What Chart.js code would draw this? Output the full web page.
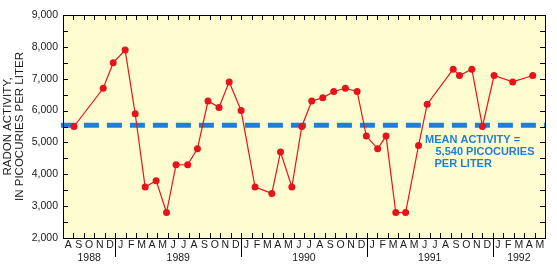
<!DOCTYPE html>
<html>
<head>
<meta charset="utf-8">
<script src="https://cdn.jsdelivr.net/npm/chart.js@4/dist/chart.umd.min.js"></script>
<style>
  html, body { margin: 0; padding: 0; background: #fff; }
</style>
</head>
<body>
<canvas id="radonChart" width="557" height="273"></canvas>
<script>
// month letters along the axis, Aug 1988 .. May 1992
const monthLetters = [
  "A","S","O","N","D",
  "J","F","M","A","M","J","J","A","S","O","N","D",
  "J","F","M","A","M","J","J","A","S","O","N","D",
  "J","F","M","A","M","J","J","A","S","O","N","D",
  "J","F","M","A","M"
];
const years = ["1988", "1989", "1990", "1991", "1992"];
const yearCenters = [2.5, 11, 23, 35, 43.5];   // months since 1 Aug 1988
const yearBreaks = [5, 17, 29, 41];

// sample dates (months since 1 Aug 1988) and radon activity, pCi/L
const sampleMonth = [
  1.05, 3.84, 4.79, 5.93, 6.89, 7.84, 8.89, 9.88, 10.79, 11.9,
  12.83, 13.84, 14.89, 15.86, 17.0, 18.33, 19.93, 20.76, 21.84, 22.79,
  23.74, 24.79, 25.84, 26.95, 28.07, 28.95, 30.03, 30.83, 31.76, 32.7,
  33.93, 34.76, 37.24, 37.84, 39.02, 40.03, 41.14, 42.92, 44.83
];
const radon = [
  5500, 6700, 7500, 7900, 5900, 3600, 3800, 2800, 4300, 4300,
  4800, 6300, 6100, 6900, 6000, 3600, 3400, 4700, 3600, 5500,
  6300, 6400, 6600, 6700, 6600, 5200, 4800, 5200, 2800, 2800,
  4900, 6200, 7300, 7100, 7300, 5500, 7100, 6900, 7100
];
const meanActivity = 5540;
const meanLabel = ["MEAN ACTIVITY =", "5,540 PICOCURIES", "PER LITER"];

const FONT = "'Liberation Sans', Arial, Helvetica, sans-serif";
const INK = "#1a1a1a";
const BLUE = "#1f7fd8";
const RED = "#e3141c";

const framePlugin = {
  id: "frame",
  beforeDatasetsDraw(chart) {
    const { ctx, chartArea: a } = chart;
    ctx.save();
    ctx.fillStyle = "#fffcd0";
    ctx.fillRect(a.left, a.top, a.right - a.left, a.bottom - a.top);
    ctx.restore();
  },
  afterDatasetsDraw(chart) {
    const { ctx, chartArea: a, scales } = chart;
    const xs = scales.x, ys = scales.y;
    ctx.save();
    ctx.strokeStyle = "#000";
    ctx.lineWidth = 1;
    ctx.beginPath();
    // inward month ticks, top and bottom
    for (let m = 1; m < monthLetters.length; m++) {
      const px = Math.round(xs.getPixelForValue(m)) + 0.5;
      ctx.moveTo(px, a.top); ctx.lineTo(px, a.top + 5);
      ctx.moveTo(px, a.bottom); ctx.lineTo(px, a.bottom - 5);
    }
    // inward value ticks every 500, left and right
    for (let v = ys.min + 500; v < ys.max; v += 500) {
      const py = Math.round(ys.getPixelForValue(v)) + 0.5;
      ctx.moveTo(a.left, py); ctx.lineTo(a.left + 5, py);
      ctx.moveTo(a.right, py); ctx.lineTo(a.right - 5, py);
    }
    // year separators reaching down through the month letters
    yearBreaks.forEach((m) => {
      const px = Math.round(xs.getPixelForValue(m)) + 0.5;
      ctx.moveTo(px, a.bottom - 5); ctx.lineTo(px, a.bottom + 19);
    });
    ctx.stroke();
    ctx.strokeRect(Math.round(a.left) + 0.5, Math.round(a.top) + 0.5,
      Math.round(a.right - a.left), Math.round(a.bottom - a.top));

    // mean annotation
    const my = ys.getPixelForValue(meanActivity);
    ctx.fillStyle = BLUE;
    ctx.font = "bold 11px " + FONT;
    ctx.textBaseline = "top";
    ctx.fillText(meanLabel[0], xs.getPixelForValue(34.55), my + 9);
    ctx.fillText(meanLabel[1], xs.getPixelForValue(35.55), my + 21);
    ctx.fillText(meanLabel[2], xs.getPixelForValue(35.45), my + 33);
    ctx.restore();
  }
};

const tickFont = { family: FONT, size: 10.5 };

new Chart(document.getElementById("radonChart"), {
  type: "line",
  data: {
    datasets: [
      {
        data: sampleMonth.map((m, i) => ({ x: m, y: radon[i] })),
        borderColor: RED,
        borderWidth: 1.2,
        pointRadius: 3.5,
        pointBackgroundColor: RED,
        pointBorderWidth: 0,
        tension: 0,
        order: 0,
      },
      {
        data: [{ x: -0.2, y: meanActivity }, { x: monthLetters.length + 0.1, y: meanActivity }],
        borderColor: BLUE,
        borderWidth: 5,
        borderDash: [15, 8],
        pointRadius: 0,
        clip: false,
        order: 1,
      },
    ],
  },
  options: {
    responsive: false,
    devicePixelRatio: 1,
    animation: false,
    layout: { padding: { top: 15, right: 12, left: 0, bottom: 0 } },
    plugins: { legend: { display: false }, tooltip: { enabled: false } },
    scales: {
      x: {
        type: "linear", position: "bottom",
        min: 0, max: monthLetters.length,
        grid: { display: false, drawTicks: false }, border: { display: false },
        afterBuildTicks: (s) => { s.ticks = monthLetters.map((_, i) => ({ value: i + 0.5 })); },
        afterFit: (s) => { s.height = 14; },
        ticks: {
          autoSkip: false, maxRotation: 0, padding: 0.5,
          color: INK, font: tickFont,
          callback: (v, i) => monthLetters[i],
        },
      },
      x2: {
        type: "linear", position: "bottom",
        min: 0, max: monthLetters.length,
        grid: { display: false, drawTicks: false }, border: { display: false },
        afterBuildTicks: (s) => { s.ticks = yearCenters.map((c) => ({ value: c })); },
        afterFit: (s) => { s.height = 21; },
        ticks: {
          autoSkip: false, maxRotation: 0, padding: 0,
          color: INK, font: tickFont,
          callback: (v, i) => years[i],
        },
      },
      y: {
        min: 2000, max: 9000,
        grid: { display: false, drawTicks: false }, border: { display: false },
        afterFit: (s) => { s.width = 63; },
        ticks: {
          stepSize: 1000, padding: 5,
          color: INK, font: tickFont,
          callback: (v) => v.toLocaleString("en-US"),
        },
        title: {
          display: true,
          text: ["RADON ACTIVITY,", "IN PICOCURIES PER LITER"],
          color: INK, font: { family: FONT, size: 11.5, lineHeight: "12px" },
          padding: { top: 1.5, bottom: 0 },
        },
      },
    },
  },
  plugins: [framePlugin],
});
</script>
</body>
</html>
